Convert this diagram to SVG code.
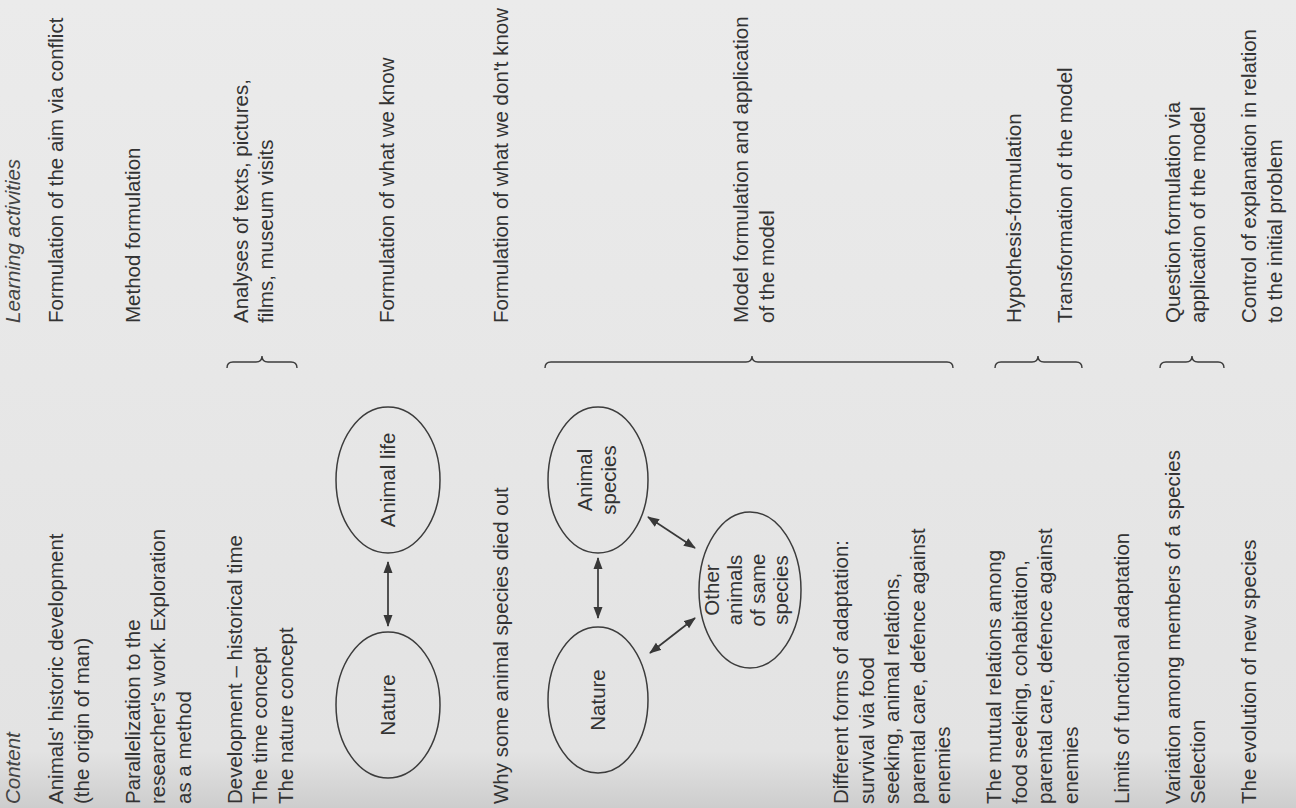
<svg xmlns="http://www.w3.org/2000/svg" width="1296" height="808" viewBox="0 0 1296 808">
<defs>
<linearGradient id="paper" x1="0" y1="0" x2="0" y2="1">
<stop offset="0" stop-color="#ebebeb"/>
<stop offset="0.93" stop-color="#e3e3e3"/>
<stop offset="1" stop-color="#cdcdcd"/>
</linearGradient>
<marker id="ah" viewBox="0 0 12 10" refX="11" refY="5" markerWidth="12" markerHeight="10" markerUnits="userSpaceOnUse" orient="auto-start-reverse">
<path d="M0,0.5 L12,5 L0,9.5 Z" fill="#383838"/>
</marker>
<style>
text{font-family:"Liberation Sans",Arial,Helvetica,sans-serif;font-size:20.5px;fill:#333}
.it{font-style:italic;fill:#444}
.c{text-anchor:middle}
.node ellipse{fill:none;stroke:#3c3c3c;stroke-width:1.5}
.conn line{stroke:#383838;stroke-width:1.7}
.brace{fill:none;stroke:#3c3c3c;stroke-width:1.4}
</style>
</defs>
<rect x="0" y="0" width="1296" height="808" fill="url(#paper)"/>
<g transform="matrix(0,-1,1,0,0,808)">
<g id="content-column">
<text class="it" x="4" y="20">Content</text>
<text x="4" y="63">Animals' historic development</text>
<text x="4" y="88.5">(the origin of man)</text>
<text x="4" y="139.5">Parallelization to the</text>
<text x="4" y="165">researcher's work. Exploration</text>
<text x="4" y="190.5">as a method</text>
<text x="4" y="241.5">Development – historical time</text>
<text x="4" y="267">The time concept</text>
<text x="4" y="292.5">The nature concept</text>
<text x="4" y="508">Why some animal species died out</text>
<text x="4" y="848">Different forms of adaptation:</text>
<text x="4" y="873.5">survival via food</text>
<text x="4" y="899">seeking, animal relations,</text>
<text x="4" y="924.5">parental care, defence against</text>
<text x="4" y="950">enemies</text>
<text x="4" y="1001">The mutual relations among</text>
<text x="4" y="1026.5">food seeking, cohabitation,</text>
<text x="4" y="1052">parental care, defence against</text>
<text x="4" y="1077.5">enemies</text>
<text x="4" y="1128.5">Limits of functional adaptation</text>
<text x="4" y="1179.5">Variation among members of a species</text>
<text x="4" y="1205">Selection</text>
<text x="4" y="1256">The evolution of new species</text>
</g>
<g id="activities-column">
<text class="it" x="485" y="20">Learning activities</text>
<text x="485" y="63">Formulation of the aim via conflict</text>
<text x="485" y="139.5">Method formulation</text>
<text x="485" y="247.5">Analyses of texts, pictures,</text>
<text x="485" y="273">films, museum visits</text>
<text x="485" y="394">Formulation of what we know</text>
<text x="485" y="508">Formulation of what we don't know</text>
<text x="485" y="748">Model formulation and application</text>
<text x="485" y="773.5">of the model</text>
<text x="485" y="1021">Hypothesis-formulation</text>
<text x="485" y="1072">Transformation of the model</text>
<text x="485" y="1179.5">Question formulation via</text>
<text x="485" y="1205">application of the model</text>
<text x="485" y="1256">Control of explanation in relation</text>
<text x="485" y="1281.5">to the initial problem</text>
</g>
<g id="braces">
<path class="brace" d="M440,227 Q446,227 446,233 L446,256 Q446,262 452,262 Q446,262 446,268 L446,291 Q446,297 440,297"/>
<path class="brace" d="M440,545 Q446,545 446,551 L446,746 Q446,752 452,752 Q446,752 446,758 L446,947 Q446,953 440,953"/>
<path class="brace" d="M440,995 Q446,995 446,1001 L446,1032 Q446,1038 452,1038 Q446,1038 446,1044 L446,1076 Q446,1082 440,1082"/>
<path class="brace" d="M440,1160 Q446,1160 446,1166 L446,1186 Q446,1192 452,1192 Q446,1192 446,1198 L446,1218 Q446,1224 440,1224"/>
</g>
<g id="node-nature-1" class="node">
<ellipse cx="103" cy="388" rx="73" ry="52"/>
<text class="c" x="103" y="395">Nature</text>
</g>
<g id="node-animal-life" class="node">
<ellipse cx="328" cy="388" rx="73" ry="52"/>
<text class="c" x="328" y="395">Animal life</text>
</g>
<g id="node-nature-2" class="node">
<ellipse cx="108" cy="598" rx="73" ry="50"/>
<text class="c" x="108" y="605">Nature</text>
</g>
<g id="node-animal-species" class="node">
<ellipse cx="328" cy="598" rx="73" ry="50"/>
<text class="c" x="328" y="592">Animal</text>
<text class="c" x="328" y="616">species</text>
</g>
<g id="node-other-animals" class="node">
<ellipse cx="218" cy="750" rx="78" ry="51"/>
<text class="c" x="218" y="719">Other</text>
<text class="c" x="218" y="742">animals</text>
<text class="c" x="218" y="765">of same</text>
<text class="c" x="218" y="788">species</text>
</g>
<g id="connectors" class="conn">
<line x1="182" y1="388" x2="246" y2="388" marker-start="url(#ah)" marker-end="url(#ah)"/>
<line x1="190" y1="598" x2="250" y2="598" marker-start="url(#ah)" marker-end="url(#ah)"/>
<line x1="291" y1="648" x2="260" y2="695" marker-start="url(#ah)" marker-end="url(#ah)"/>
<line x1="155" y1="650" x2="190" y2="695" marker-start="url(#ah)" marker-end="url(#ah)"/>
</g>
</g>
</svg>
